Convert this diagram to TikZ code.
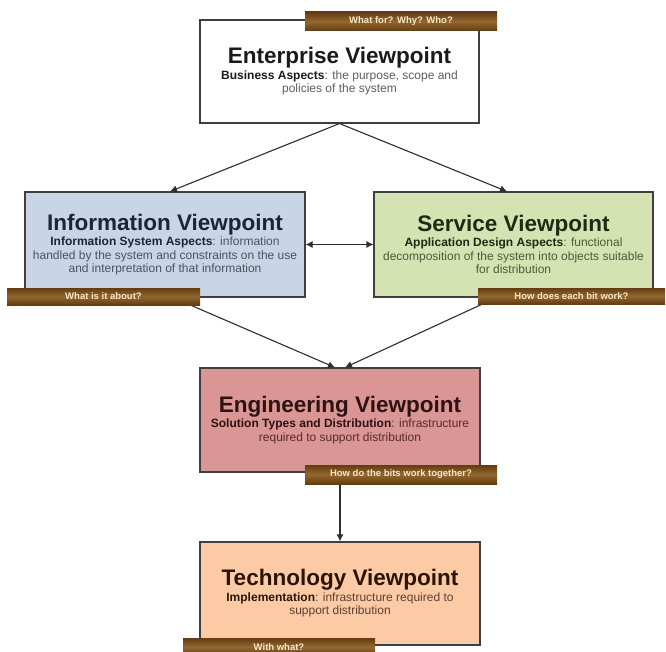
\documentclass[tikz,border=0pt]{standalone}
\usepackage{fontspec}
\setmainfont{Liberation Sans}
\usetikzlibrary{arrows.meta,calc}
\definecolor{bordc}{HTML}{3F3F3F}
\definecolor{infofill}{HTML}{C8D5E7}
\definecolor{servfill}{HTML}{D5E2B1}
\definecolor{engfill}{HTML}{D99694}
\definecolor{techfill}{HTML}{FCCBA6}
\definecolor{tagtop}{HTML}{623C12}
\definecolor{tagmid}{HTML}{94672F}
\definecolor{tagtxt}{HTML}{F4E8CC}
\definecolor{linec}{HTML}{2E2E2E}
\definecolor{enthead}{HTML}{1A1A1A}
\definecolor{entbody}{HTML}{5E5E5E}
\definecolor{infohead}{HTML}{1C2533}
\definecolor{infobody}{HTML}{4A5260}
\definecolor{servhead}{HTML}{1E2A14}
\definecolor{servbody}{HTML}{4E5A3A}
\definecolor{enghead}{HTML}{2E1212}
\definecolor{engbody}{HTML}{5A2A2A}
\definecolor{techhead}{HTML}{2A1408}
\definecolor{techbody}{HTML}{5A4030}
\newcommand{\bodytxt}{\fontsize{12}{13.5}\selectfont}
\newcommand{\vtitlefont}{\fontsize{22.5}{24}\selectfont\bfseries}
\tikzset{
  vbox/.style={draw=bordc, line width=1.1pt, minimum width=280pt, align=center, inner sep=0pt, font=\bodytxt},
  tagbox/.style={top color=tagtop, bottom color=tagtop, middle color=tagmid, draw=none,
    minimum height=18pt, inner sep=0pt, text=tagtxt, font=\fontsize{9.5}{10}\selectfont\bfseries},
  conn/.style={draw=linec, line width=1.1pt},
  tip/.style={-{Latex[length=7pt,width=7pt]}},
  dtip/.style={{Latex[length=7pt,width=7pt]}-{Latex[length=7pt,width=7pt]}}
}
\begin{document}
\begin{tikzpicture}[x=1pt,y=-1pt]
\useasboundingbox (0,0) rectangle (666,652);
\fill[white] (0,0) rectangle (666,652);

% boxes
\node[vbox, fill=white, text=entbody, minimum width=279pt, minimum height=103pt] (ent) at (339.5,71.5)
  {\textcolor{enthead}{\vtitlefont Enterprise Viewpoint}\\[2pt]
   \textcolor{enthead}{\bfseries Business Aspects}: the purpose, scope and\\policies of the system};
\node[vbox, fill=infofill, text=infobody, minimum width=280pt, minimum height=105pt] (info) at (165,244.5)
  {\textcolor{infohead}{\vtitlefont Information Viewpoint}\\[2pt]
   \textcolor{infohead}{\bfseries Information System Aspects}: information\\handled by the system and constraints on the use\\and interpretation of that information};
\node[vbox, fill=servfill, text=servbody, minimum width=279pt, minimum height=105pt] (serv) at (513.5,244.5)
  {\textcolor{servhead}{\vtitlefont Service Viewpoint}\\[2pt]
   \textcolor{servhead}{\bfseries Application Design Aspects}: functional\\decomposition of the system into objects suitable\\for distribution};
\node[vbox, fill=engfill, text=engbody, minimum width=280pt, minimum height=104pt] (eng) at (340,420)
  {\textcolor{enghead}{\vtitlefont Engineering Viewpoint}\\[2pt]
   \textcolor{enghead}{\bfseries Solution Types and Distribution}: infrastructure\\required to support distribution};
\node[vbox, fill=techfill, text=techbody, minimum width=280pt, minimum height=103pt] (tech) at (340,593.5)
  {\textcolor{techhead}{\vtitlefont Technology Viewpoint}\\[2pt]
   \textcolor{techhead}{\bfseries Implementation}: infrastructure required to\\support distribution};

% connectors
\draw[conn, tip] (ent.south) -- ([xshift=5pt]info.north);
\draw[conn, tip] (ent.south) -- ([xshift=-6.5pt]serv.north);
\draw[conn, dtip] (info.east) -- (serv.west);
\draw[conn, tip] ([xshift=8pt]info.south) -- ([xshift=-5pt]eng.north);
\draw[conn, tip] ([xshift=-17pt]serv.south) -- ([xshift=5pt]eng.north);
\draw[conn, tip] (eng.south) -- (tech.north);

% tags
\node[tagbox, minimum width=192pt, minimum height=19pt] (tagE) at (401,21.5) {What for? Why? Who?};
\node[tagbox, minimum width=193pt, minimum height=17pt] (tagI) at (103.5,296.5) {What is it about?};
\node[tagbox, minimum width=187pt, minimum height=16pt] (tagS) at (571.5,296) {How does each bit work?};
\node[tagbox, minimum width=192pt, minimum height=19pt] (tagG) at (401,474.5) {How do the bits work together?};
\node[tagbox, minimum width=192pt, minimum height=18pt] (tagT) at (279,647) {With what?};
\end{tikzpicture}
\end{document}
